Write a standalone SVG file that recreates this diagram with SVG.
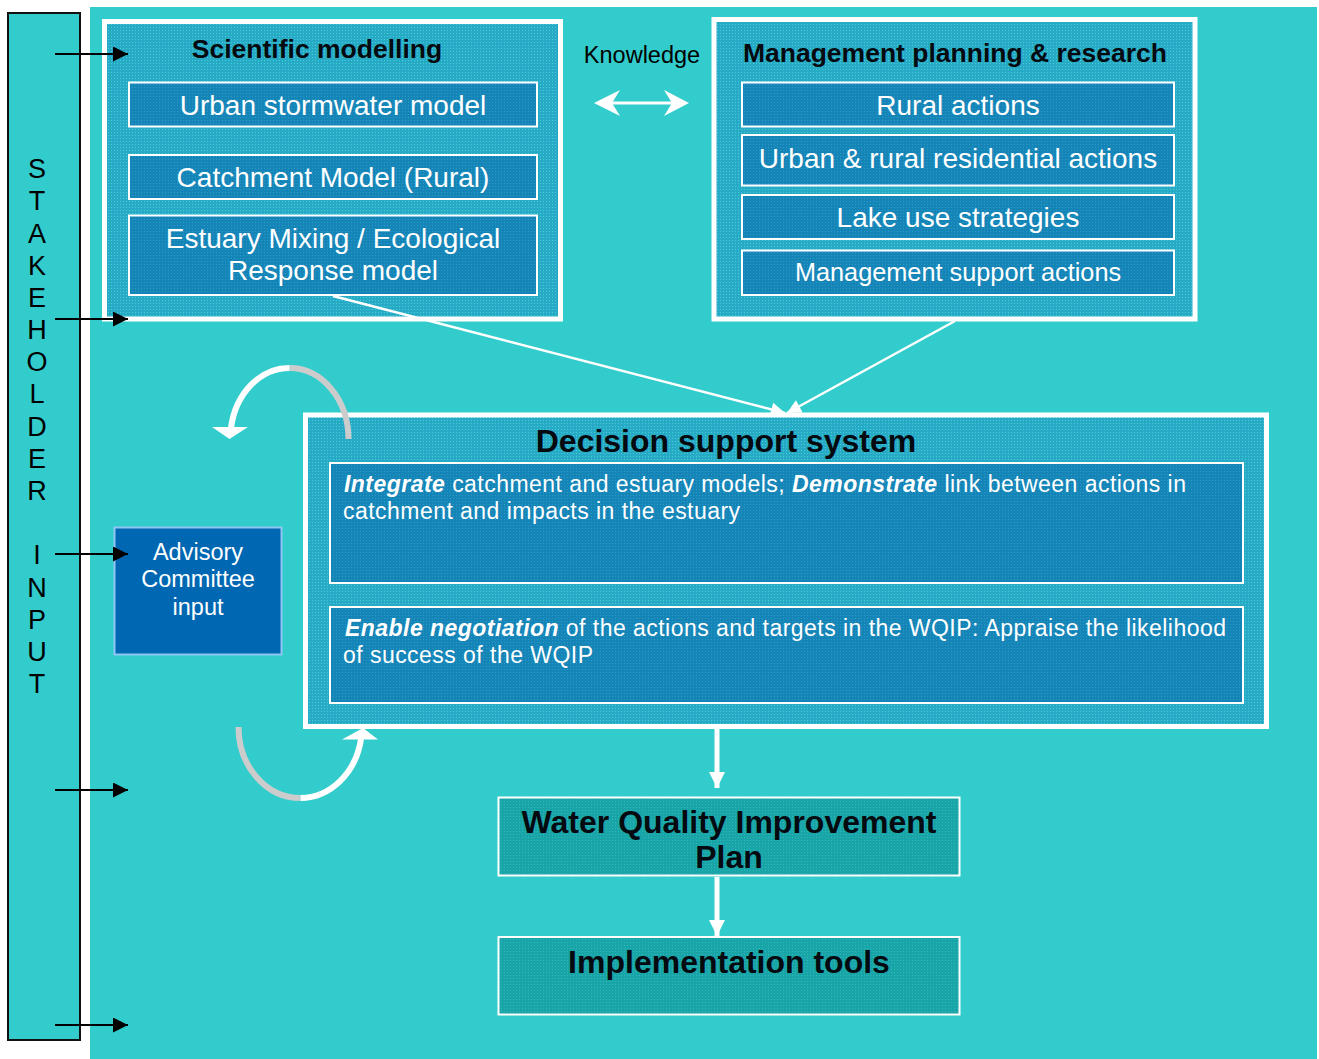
<svg xmlns="http://www.w3.org/2000/svg" width="1319" height="1059" viewBox="0 0 1319 1059">
  <style>
    text { font-family: "Liberation Sans", Arial, sans-serif; }
    .panel { fill: url(#dotOuter); stroke: #ffffff; stroke-width: 5; }
    .item { fill: url(#dotInner); stroke: #ffffff; stroke-width: 2; }
    .plan { fill: url(#dotPlan); stroke: #ffffff; stroke-width: 2; }
    .itemText { fill: #ffffff; font-size: 28px; text-anchor: middle; }
    .small { font-size: 25.3px; }
    .title { font-weight: bold; font-size: 26.5px; text-anchor: middle; fill: #050a10; }
    .bigTitle { font-weight: bold; font-size: 32px; text-anchor: middle; fill: #050a10; }
    .body { fill: #ffffff; font-size: 23px; letter-spacing: 0.46px; }
    .bi { font-weight: bold; font-style: italic; }
    .stake { font-size: 27px; fill: #000000; text-anchor: middle; }
    .blackArrow { stroke: #000000; stroke-width: 2; fill: none; marker-end: url(#headBlack); }
    .whiteLine { stroke: #ffffff; stroke-width: 2.5; fill: none; marker-end: url(#headWhite); }
    .whiteDown { stroke: #ffffff; stroke-width: 5; fill: none; marker-end: url(#headDown); }
  </style>
  <defs>
    <pattern id="dotOuter" width="3" height="3" patternUnits="userSpaceOnUse">
      <rect width="3" height="3" fill="#27AAC6"/>
      <rect width="1" height="1" fill="#46CDD6"/>
    </pattern>
    <pattern id="dotInner" width="3" height="3" patternUnits="userSpaceOnUse">
      <rect width="3" height="3" fill="#1584B7"/>
      <rect width="1" height="1" fill="#2A9BC8"/>
    </pattern>
    <pattern id="dotPlan" width="3" height="3" patternUnits="userSpaceOnUse">
      <rect width="3" height="3" fill="#19A4A7"/>
      <rect width="1" height="1" fill="#2DB8BA"/>
    </pattern>
    <marker id="headBlack" viewBox="0 0 10 10" refX="10" refY="5" markerUnits="userSpaceOnUse" markerWidth="16" markerHeight="15" orient="auto">
      <path d="M0,0 L10,5 L0,10 z" fill="#000000"/>
    </marker>
    <marker id="headWhite" viewBox="0 0 10 10" refX="10" refY="5" markerUnits="userSpaceOnUse" markerWidth="15" markerHeight="14" orient="auto">
      <path d="M0,0 L10,5 L0,10 z" fill="#ffffff"/>
    </marker>
    <marker id="headDown" viewBox="0 0 10 10" refX="10" refY="5" markerUnits="userSpaceOnUse" markerWidth="16" markerHeight="17" orient="auto">
      <path d="M0,0 L10,5 L0,10 z" fill="#ffffff"/>
    </marker>
  </defs>

  <!-- page and main field -->
  <rect x="0" y="0" width="1319" height="1059" fill="#ffffff"/>
  <rect x="90" y="7" width="1227" height="1052" fill="#33CCCC"/>

  <!-- stakeholder input bar -->
  <g id="stakeholder-input">
    <rect x="8" y="13" width="72" height="1027" fill="#33CCCC" stroke="#111111" stroke-width="2"/>
    <text class="stake" x="37" y="178">S</text>
    <text class="stake" x="37" y="210">T</text>
    <text class="stake" x="37" y="243">A</text>
    <text class="stake" x="37" y="275">K</text>
    <text class="stake" x="37" y="307">E</text>
    <text class="stake" x="37" y="339">H</text>
    <text class="stake" x="37" y="371">O</text>
    <text class="stake" x="37" y="403">L</text>
    <text class="stake" x="37" y="436">D</text>
    <text class="stake" x="37" y="468">E</text>
    <text class="stake" x="37" y="500">R</text>
    <text class="stake" x="37" y="564">I</text>
    <text class="stake" x="37" y="597">N</text>
    <text class="stake" x="37" y="629">P</text>
    <text class="stake" x="37" y="661">U</text>
    <text class="stake" x="37" y="693">T</text>
  </g>

  <!-- scientific modelling -->
  <g id="scientific-modelling">
    <rect class="panel" x="104.5" y="21.5" width="456" height="297.5"/>
    <text class="title" x="317" y="58">Scientific modelling</text>
    <rect class="item" x="129" y="82.5" width="408" height="44"/>
    <text class="itemText" x="333" y="115">Urban stormwater model</text>
    <rect class="item" x="129" y="155" width="408" height="44"/>
    <text class="itemText" x="333" y="187">Catchment Model (Rural)</text>
    <rect class="item" x="129" y="215.5" width="408" height="79.5"/>
    <text class="itemText" x="333" y="248">Estuary Mixing / Ecological</text>
    <text class="itemText" x="333" y="280">Response model</text>
  </g>

  <!-- knowledge exchange label -->
  <g id="knowledge">
    <text x="642" y="63" font-size="23.5" text-anchor="middle" fill="#000000">Knowledge</text>
  </g>

  <!-- management planning & research -->
  <g id="management-planning">
    <rect class="panel" x="714" y="19.5" width="481" height="299.5"/>
    <text class="title" x="955" y="62">Management planning &amp; research</text>
    <rect class="item" x="742" y="82.5" width="432" height="44"/>
    <text class="itemText" x="958" y="115">Rural actions</text>
    <rect class="item" x="742" y="135" width="432" height="50.5"/>
    <text class="itemText" x="958" y="168">Urban &amp; rural residential actions</text>
    <rect class="item" x="742" y="195" width="432" height="44"/>
    <text class="itemText" x="958" y="227">Lake use strategies</text>
    <rect class="item" x="742" y="250.5" width="432" height="44.5"/>
    <text class="itemText small" x="958" y="281">Management support actions</text>
  </g>

  <!-- advisory committee -->
  <g id="advisory-committee">
    <rect x="114.5" y="527.5" width="167" height="127" fill="#0067B2" stroke="#8FC6F2" stroke-width="2"/>
    <text x="198" y="560" font-size="23.5" fill="#ffffff" text-anchor="middle">Advisory</text>
    <text x="198" y="587" font-size="23.5" fill="#ffffff" text-anchor="middle">Committee</text>
    <text x="198" y="615" font-size="23.5" fill="#ffffff" text-anchor="middle">input</text>
  </g>

  <!-- decision support system -->
  <g id="decision-support">
    <rect class="panel" x="305.5" y="415" width="961" height="311.5"/>
    <text class="bigTitle" x="726" y="452">Decision support system</text>
    <rect class="item" x="330" y="463" width="913" height="120"/>
    <text class="body" x="344" y="492"><tspan class="bi">Integrate</tspan> catchment and estuary models; <tspan class="bi">Demonstrate</tspan> link between actions in</text>
    <text class="body" x="343" y="519">catchment and impacts in the estuary</text>
    <rect class="item" x="330" y="607" width="913" height="96"/>
    <text class="body" x="345" y="636"><tspan class="bi">Enable negotiation</tspan> of the actions and targets in the WQIP: Appraise the likelihood</text>
    <text class="body" x="343" y="663">of success of the WQIP</text>
  </g>

  <!-- water quality improvement plan -->
  <g id="wqip">
    <rect class="plan" x="498.5" y="797.5" width="461" height="78"/>
    <text class="bigTitle" x="729" y="833">Water Quality Improvement</text>
    <text class="bigTitle" x="729" y="868">Plan</text>
  </g>

  <!-- implementation tools -->
  <g id="implementation-tools">
    <rect class="plan" x="498.5" y="937" width="461" height="77.5"/>
    <text class="bigTitle" x="729" y="973">Implementation tools</text>
  </g>

  <!-- connectors -->
  <g id="connectors">
    <!-- stakeholder inputs -->
    <line class="blackArrow" x1="55" y1="54" x2="128" y2="54"/>
    <line class="blackArrow" x1="55" y1="319" x2="128" y2="319"/>
    <line class="blackArrow" x1="55" y1="554" x2="128" y2="554"/>
    <line class="blackArrow" x1="55" y1="790" x2="128" y2="790"/>
    <line class="blackArrow" x1="55" y1="1025" x2="128" y2="1025"/>

    <!-- knowledge two-way arrow -->
    <line x1="606" y1="103" x2="677" y2="103" stroke="#ffffff" stroke-width="3"/>
    <path d="M594,103 L620,90 L612,103 L620,116 z" fill="#ffffff"/>
    <path d="M689,103 L664,90 L672,103 L664,116 z" fill="#ffffff"/>

    <!-- models and plans into the decision support system -->
    <line class="whiteLine" x1="333" y1="296" x2="785" y2="413"/>
    <line class="whiteLine" x1="955" y1="321" x2="787" y2="413"/>

    <!-- feedback loops beside the decision support system -->
    <path d="M348.5,439 A59,71 0 0 0 289.5,368" stroke="#CCCCCC" stroke-width="6" fill="none"/>
    <path d="M289.5,368 A59,71 0 0 0 231,428" stroke="#ffffff" stroke-width="6" fill="none"/>
    <path d="M212,427 L248,427 L229.5,439 z" fill="#ffffff"/>

    <path d="M238.5,727 A62,71 0 0 0 300.5,798" stroke="#CCCCCC" stroke-width="6" fill="none"/>
    <path d="M300.5,798 A62,71 0 0 0 361,739" stroke="#ffffff" stroke-width="6" fill="none"/>
    <path d="M342,739.5 L378,739.5 L363,728 z" fill="#ffffff"/>

    <!-- downstream flow -->
    <line class="whiteDown" x1="717" y1="729" x2="717" y2="788"/>
    <line class="whiteDown" x1="717" y1="877" x2="717" y2="936"/>
  </g>
</svg>
